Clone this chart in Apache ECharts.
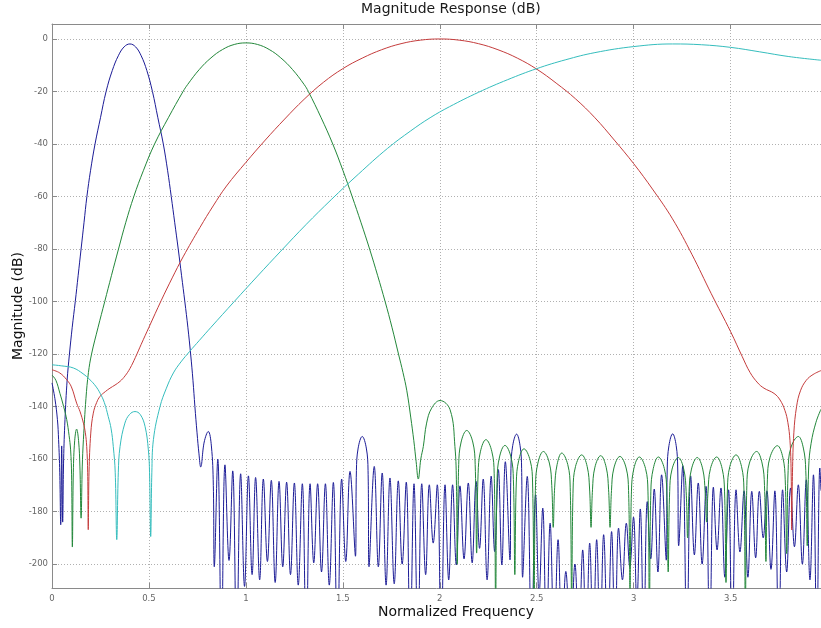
<!DOCTYPE html>
<html>
<head>
<meta charset="utf-8">
<script src="https://cdn.jsdelivr.net/npm/echarts@6.0.0/dist/echarts.min.js"></script>
<style>
  html, body { margin: 0; padding: 0; background: #ffffff; }
  #chart { width: 821px; height: 628px; }
</style>
</head>
<body>
<div id="chart"></div>
<script>
// Tick positions of the two axes
const freqTicks = [0, 0.5, 1, 1.5, 2, 2.5, 3, 3.5];
const magTicks = [-200, -180, -160, -140, -120, -100, -80, -60, -40, -20, 0];

// Filter 1 (band around 0.4): passband lobe, then the stopband ripples (null, peak, null ...)
const bandOneLobe = [
  [0, -131], [0.015, -137], [0.028, -145], [0.034, -152.6], [0.040, -165], [0.045, -185],
  [0.050, -155], [0.055, -184], [0.060, -160], [0.067, -145], [0.078, -130], [0.090, -120],
  [0.104, -110], [0.120, -100], [0.135, -90], [0.150, -80], [0.165, -70], [0.180, -60],
  [0.199, -50], [0.222, -40], [0.250, -30], [0.279, -20], [0.311, -12], [0.342, -6.4],
  [0.372, -3], [0.402, -1.9], [0.431, -3], [0.460, -6.4], [0.489, -12], [0.518, -20],
  [0.546, -30], [0.574, -40], [0.596, -50], [0.615, -60], [0.633, -70], [0.651, -80],
  [0.668, -90], [0.685, -100], [0.701, -110], [0.715, -120], [0.727, -130], [0.737, -140],
  [0.748, -150], [0.758, -158], [0.767, -163], [0.785, -153.5], [0.806, -149.5], [0.822, -155],
  [0.832, -170]
];
const bandOneStop = [
  [0.837, -201], [0.855, -160.0], [0.874, -230], [0.892, -162.2], [0.913, -198.6], [0.932, -164.5],
  [0.952, -230], [0.973, -165.6], [0.993, -208.5], [1.013, -166.4], [1.032, -204], [1.050, -167.0],
  [1.071, -206], [1.090, -167.6], [1.111, -199], [1.131, -168.1], [1.151, -207], [1.171, -168.5],
  [1.190, -201], [1.210, -168.8], [1.230, -204], [1.250, -169.1], [1.270, -208], [1.291, -169.4],
  [1.311, -230], [1.331, -169.4], [1.350, -199.5], [1.370, -169.4], [1.390, -203], [1.410, -169.4],
  [1.430, -208], [1.451, -168.9], [1.472, -230], [1.494, -167.6], [1.515, -199], [1.537, -164.7],
  [1.565, -197], [1.570, -164.4], [1.579, -155.8], [1.600, -151.4], [1.621, -155.8], [1.630, -164.4],
  [1.635, -201], [1.662, -162.8], [1.683, -201], [1.703, -165.3], [1.723, -208], [1.743, -167.2],
  [1.765, -207.5], [1.786, -168.3], [1.806, -200], [1.827, -168.8], [1.847, -230], [1.867, -169.4],
  [1.887, -230], [1.907, -169.4], [1.927, -204], [1.946, -169.8], [1.966, -192], [1.987, -169.8],
  [2.007, -230], [2.027, -169.8], [2.046, -206], [2.066, -169.8], [2.085, -200.3], [2.104, -170.2],
  [2.125, -198], [2.147, -169.1], [2.167, -199.5], [2.187, -168.5], [2.205, -194], [2.224, -167.6],
  [2.244, -206], [2.265, -166.5], [2.283, -195.2], [2.302, -164.0], [2.320, -200.3], [2.338, -161.0],
  [2.362, -198.4], [2.367, -163.5], [2.376, -154.9], [2.396, -150.5], [2.414, -154.9], [2.422, -163.5],
  [2.427, -205], [2.451, -166.6], [2.473, -230], [2.494, -173.6], [2.512, -212], [2.531, -178.7],
  [2.550, -230], [2.569, -184.4], [2.590, -230], [2.610, -190.7], [2.630, -230], [2.650, -202.8],
  [2.674, -230], [2.697, -200.0], [2.717, -230], [2.737, -194.6], [2.755, -230], [2.773, -192.0],
  [2.791, -230], [2.809, -190.7], [2.827, -230], [2.845, -188.8], [2.866, -230], [2.886, -187.6],
  [2.904, -230], [2.922, -186.3], [2.942, -206], [2.962, -184.4], [2.980, -201], [2.999, -182.1],
  [3.016, -215], [3.034, -179.0], [3.052, -230], [3.070, -176.2], [3.088, -198], [3.106, -171.4],
  [3.125, -203], [3.144, -166.0], [3.168, -198.5], [3.173, -163.4], [3.182, -154.8], [3.201, -150.4],
  [3.219, -154.8], [3.227, -163.4], [3.232, -193], [3.253, -162.5], [3.274, -230], [3.294, -166.4],
  [3.313, -196.5], [3.333, -169.1], [3.353, -200], [3.373, -170.4], [3.392, -230], [3.411, -170.7],
  [3.430, -194.6], [3.450, -171.0], [3.470, -205], [3.489, -171.7], [3.508, -230], [3.528, -171.7],
  [3.548, -195.4], [3.569, -172.1], [3.589, -205], [3.609, -172.3], [3.629, -197.6], [3.648, -172.3],
  [3.668, -190], [3.687, -172.1], [3.708, -202], [3.728, -172.1], [3.748, -230], [3.768, -171.7],
  [3.789, -203], [3.809, -171.0], [3.829, -193.4], [3.849, -169.8], [3.870, -200], [3.890, -167.9],
  [3.909, -206], [3.927, -166.0], [3.944, -230], [3.960, -163.4], [3.966, -172]
];

// Filter 2 (band around 1.0): main lobe, then its sidelobes
const bandTwoLobe = [
  [0, -128], [0.020, -130], [0.041, -135], [0.060, -140], [0.076, -145], [0.088, -151],
  [0.096, -156.5], [0.101, -166], [0.105, -193.5], [0.110, -165], [0.117, -153], [0.127, -148.6],
  [0.137, -153], [0.144, -163], [0.150, -182.5], [0.156, -163], [0.162, -152.6], [0.175, -137],
  [0.188, -127], [0.204, -120], [0.237, -110], [0.272, -100], [0.307, -90], [0.343, -80],
  [0.380, -70], [0.422, -60], [0.472, -50], [0.529, -40], [0.600, -30], [0.676, -20],
  [0.700, -17.3], [0.760, -11.6], [0.820, -7.2], [0.880, -4.0], [0.940, -2.1], [1.000, -1.5],
  [1.060, -2.1], [1.120, -4.0], [1.180, -7.2], [1.240, -11.6], [1.300, -17.3], [1.322, -20],
  [1.388, -30], [1.448, -40], [1.500, -50], [1.548, -60], [1.594, -70], [1.638, -80],
  [1.679, -90], [1.718, -100], [1.754, -110], [1.787, -120], [1.810, -127], [1.830, -134],
  [1.850, -144], [1.866, -153], [1.878, -161], [1.889, -167.6], [1.902, -160], [1.915, -155.2],
  [1.932, -146.3], [1.958, -140.6], [2.001, -137.7], [2.053, -141.2], [2.078, -155.2], [2.086, -170]
];
const bandTwoSide = [
  [2.090, -200], [2.0975, -162.1], [2.110, -153.5], [2.139, -149.1], [2.170, -153.5], [2.1825, -162.1],
  [2.190, -195.8], [2.1975, -165.6], [2.210, -157.0], [2.238, -152.6], [2.268, -157.0], [2.2805, -165.6],
  [2.288, -215], [2.2955, -167.8], [2.308, -159.2], [2.336, -154.8], [2.367, -159.2], [2.3795, -167.8],
  [2.387, -204], [2.3945, -169.1], [2.407, -160.5], [2.434, -156.1], [2.466, -160.5], [2.4785, -169.1],
  [2.486, -220], [2.4935, -170.1], [2.506, -161.5], [2.534, -157.1], [2.565, -161.5], [2.5775, -170.1],
  [2.585, -186], [2.5925, -170.7], [2.605, -162.1], [2.629, -157.7], [2.660, -162.1], [2.6725, -170.7],
  [2.680, -215], [2.6875, -171.4], [2.700, -162.8], [2.732, -158.4], [2.760, -162.8], [2.7725, -171.4],
  [2.780, -186], [2.7875, -171.7], [2.800, -163.1], [2.830, -158.7], [2.858, -163.1], [2.8705, -171.7],
  [2.878, -186], [2.8855, -172.0], [2.898, -163.4], [2.929, -159.0], [2.961, -163.4], [2.9735, -172.0],
  [2.981, -210], [2.9885, -172.2], [3.001, -163.6], [3.029, -159.2], [3.061, -163.6], [3.0735, -172.2],
  [3.081, -220], [3.0885, -172.2], [3.101, -163.6], [3.127, -159.2], [3.158, -163.6], [3.1705, -172.2],
  [3.178, -203], [3.1855, -172.4], [3.198, -163.8], [3.230, -159.4], [3.258, -163.8], [3.2705, -172.4],
  [3.278, -190], [3.2855, -172.4], [3.298, -163.8], [3.328, -159.4], [3.356, -163.8], [3.3685, -172.4],
  [3.376, -184], [3.3835, -172.2], [3.396, -163.6], [3.428, -159.2], [3.456, -163.6], [3.4685, -172.2],
  [3.476, -207], [3.4835, -171.4], [3.496, -162.8], [3.528, -158.4], [3.556, -162.8], [3.5685, -171.4],
  [3.576, -220], [3.5835, -170.1], [3.597, -161.5], [3.634, -157.1], [3.662, -161.5], [3.6745, -170.1],
  [3.682, -199], [3.6895, -167.9], [3.703, -159.3], [3.741, -154.9], [3.769, -159.3], [3.7815, -167.9],
  [3.789, -196], [3.7965, -164.4], [3.810, -155.8], [3.849, -151.4], [3.875, -155.8], [3.8875, -164.4],
  [3.895, -193], [3.9025, -163], [3.915, -154], [3.940, -146], [3.966, -141]
];

// Filter 3 (band around 2.0)
const bandThree = [
  [0, -126], [0.040, -127.2], [0.076, -129.8], [0.100, -132.5], [0.127, -138.7], [0.145, -142],
  [0.162, -146.3], [0.172, -150], [0.179, -155.2], [0.184, -165], [0.187, -186.9], [0.191, -165],
  [0.200, -150.1], [0.213, -142.5], [0.230, -138.5], [0.248, -136.1], [0.275, -134.3], [0.299, -133],
  [0.325, -131.8], [0.351, -130.4], [0.377, -128.3], [0.402, -125.5], [0.430, -121.3], [0.460, -116.3],
  [0.500, -109.8], [0.564, -99.5], [0.620, -91], [0.676, -83], [0.763, -71.8], [0.831, -63.6],
  [0.900, -56], [1.000, -47], [1.100, -38.5], [1.200, -30.5], [1.300, -23], [1.400, -16.5],
  [1.500, -11.3], [1.600, -7.3], [1.700, -4.1], [1.800, -1.8], [1.900, -0.45], [2.000, 0],
  [2.100, -0.45], [2.200, -1.8], [2.300, -4.1], [2.400, -7.3], [2.500, -11.5], [2.600, -16.8],
  [2.700, -22.8], [2.800, -30], [2.900, -38.5], [3.000, -47.5], [3.100, -57.5], [3.200, -68.5],
  [3.300, -82], [3.400, -97], [3.500, -111.5], [3.560, -121], [3.600, -127], [3.640, -131],
  [3.672, -133], [3.724, -135], [3.755, -137.5], [3.780, -141.5], [3.795, -146], [3.806, -153],
  [3.812, -165], [3.815, -187], [3.819, -165], [3.826, -150], [3.840, -140], [3.860, -134],
  [3.890, -130], [3.925, -127.8], [3.966, -126.3]
];

// Filter 4 (band around 3.2)
const bandFour = [
  [0, -124.1], [0.050, -124.5], [0.110, -125.3], [0.160, -127.5], [0.196, -129.8], [0.225, -132.2],
  [0.248, -134.9], [0.270, -138.5], [0.290, -143.8], [0.305, -148.5], [0.316, -155.2], [0.326, -165],
  [0.334, -190.7], [0.342, -165], [0.351, -155.2], [0.376, -146.3], [0.400, -143], [0.428, -141.9],
  [0.455, -143], [0.480, -147.6], [0.497, -156.5], [0.503, -165], [0.509, -189.5], [0.515, -165],
  [0.523, -152.6], [0.557, -140], [0.590, -133], [0.626, -127.2], [0.665, -123], [0.710, -119],
  [0.760, -114.8], [0.820, -109.8], [0.940, -100], [1.060, -90.3], [1.180, -80.8], [1.310, -70.7],
  [1.440, -61.2], [1.580, -51.5], [1.730, -41.7], [1.850, -35], [1.950, -30], [2.050, -25.8],
  [2.200, -20.3], [2.350, -15.5], [2.500, -11.3], [2.650, -7.9], [2.800, -5.2], [3.000, -2.9],
  [3.200, -1.9], [3.350, -2.2], [3.500, -3.2], [3.650, -4.9], [3.800, -6.7], [3.966, -8.1]
];

const FONT = 'DejaVu Sans, Liberation Sans, sans-serif';
const AXIS_GREY = '#8a8a8a';

function curve(name, data, color) {
  return {
    type: 'line',
    name: name,
    data: data,
    symbol: 'none',
    showSymbol: false,
    smooth: 0.4,
    clip: true,
    lineStyle: { width: 1, color: color },
    itemStyle: { color: color },
    emphasis: { disabled: true }
  };
}

const chart = echarts.init(document.getElementById('chart'), null, { renderer: 'canvas' });

chart.setOption({
  animation: false,
  backgroundColor: '#ffffff',
  title: {
    text: 'Magnitude Response (dB)',
    left: 361,
    top: 2,
    padding: 0,
    textStyle: { fontFamily: FONT, fontSize: 14, fontWeight: 'normal', color: '#1a1a1a' }
  },
  grid: {
    left: 52, top: 24, right: 0, bottom: 40,
    containLabel: false,
    outerBoundsMode: 'none'
  },
  xAxis: [
    {
      type: 'value', position: 'bottom', min: 0, max: 3.966,
      name: 'Normalized Frequency', nameLocation: 'middle', nameGap: 17,
      nameMoveOverlap: false,
      nameTextStyle: { fontFamily: FONT, fontSize: 14, color: '#111111', padding: [0, 0, 0, 39] },
      axisLine: { show: true, onZero: false, lineStyle: { color: AXIS_GREY, width: 1 } },
      axisTick: { show: true, inside: true, length: 5, customValues: freqTicks, lineStyle: { color: AXIS_GREY } },
      axisLabel: { show: true, customValues: freqTicks, color: '#666666', fontFamily: FONT, fontSize: 8.5, margin: 6 },
      splitLine: { show: true, lineStyle: { type: [1, 2], color: '#b0b0b0', width: 1 } }
    },
    {
      type: 'value', position: 'top', min: 0, max: 3.966,
      axisLine: { show: true, onZero: false, lineStyle: { color: AXIS_GREY, width: 1 } },
      axisTick: { show: true, inside: true, length: 5, customValues: freqTicks, lineStyle: { color: AXIS_GREY } },
      axisLabel: { show: false },
      splitLine: { show: false }
    }
  ],
  yAxis: [
    {
      type: 'value', position: 'left', min: -209.1, max: 5.7,
      name: 'Magnitude (dB)', nameLocation: 'middle', nameGap: 27,
      nameMoveOverlap: false,
      nameTextStyle: { fontFamily: FONT, fontSize: 14, color: '#111111' },
      axisLine: { show: true, onZero: false, lineStyle: { color: AXIS_GREY, width: 1 } },
      axisTick: { show: true, inside: true, length: 5, customValues: magTicks, lineStyle: { color: AXIS_GREY } },
      axisLabel: { show: true, customValues: magTicks, color: '#666666', fontFamily: FONT, fontSize: 8.5, margin: 4 },
      splitLine: { show: true, lineStyle: { type: [1, 2], color: '#b0b0b0', width: 1 } }
    }
  ],
  series: [
    curve('Filter 1', bandOneLobe.concat(bandOneStop), '#1c1c96'),
    curve('Filter 2', bandTwoLobe.concat(bandTwoSide), '#23873a'),
    curve('Filter 3', bandThree, '#c43c3c'),
    curve('Filter 4', bandFour, '#35bdbd')
  ]
});
</script>
</body>
</html>
